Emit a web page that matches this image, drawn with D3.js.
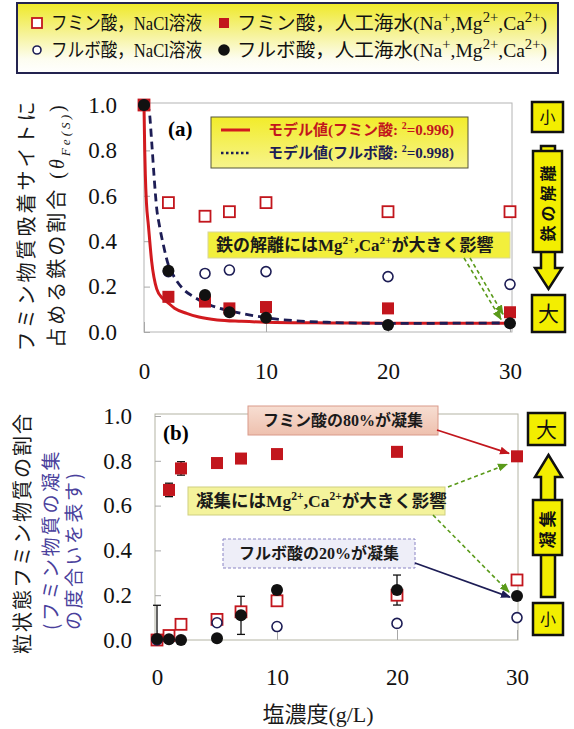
<!DOCTYPE html>
<html>
<head>
<meta charset="utf-8">
<script src="https://cdn.jsdelivr.net/npm/d3@7"></script>
<style>
  body { margin: 0; background: #fff; }
</style>
</head>
<body>
<script>
// ---- data ----
// panel (a): share of iron on humic adsorption sites
const saltA = [0, 2, 5, 7, 10, 20, 30];
const humicNaClA = [1.0, 0.57, 0.51, 0.53, 0.57, 0.53, 0.53];
const humicSeaA = [1.0, 0.155, 0.134, 0.104, 0.11, 0.104, 0.087];
const fulvicNaClA = [1.0, 0.266, 0.258, 0.273, 0.266, 0.244, 0.21];
const fulvicSeaA = [1.0, 0.27, 0.163, 0.087, 0.063, 0.031, 0.038];

// model curves, traced point by point
const modelHumicX = [0, 0.03, 0.06, 0.11, 0.2, 0.36, 0.63, 1.04, 1.5, 1.86, 2.5, 3.5, 4.5, 6, 8, 10, 15, 20, 30];
const modelHumicY = [1.0, 0.9, 0.8, 0.69, 0.57, 0.47, 0.31, 0.19, 0.15, 0.134, 0.105, 0.082, 0.066, 0.053, 0.047, 0.043, 0.04, 0.039, 0.038];
const modelFulvicX = [0, 0.4, 0.63, 0.82, 1.04, 1.26, 1.59, 2.0, 2.4, 3.2, 4.05, 5.4, 7.3, 10, 15, 20, 30];
const modelFulvicY = [1.0, 0.98, 0.838, 0.69, 0.545, 0.47, 0.383, 0.295, 0.25, 0.19, 0.156, 0.119, 0.09, 0.063, 0.043, 0.038, 0.04];

// panel (b): share of particulate humic substances
const saltB = [0, 1, 2, 5, 7, 10, 20, 30];
const humicSeaB = [0, 0.67, 0.766, 0.79, 0.81, 0.83, 0.84, 0.82];
const humicSeaErrB = [0, 0.03, 0.03, 0, 0, 0, 0, 0];
const humicNaClB = [0, 0.02, 0.07, 0.092, 0.126, 0.175, 0.2, 0.268];
const fulvicSeaB = [0.005, 0.003, 0, 0.008, 0.11, 0.223, 0.223, 0.196];
const fulvicSeaErrB = [0.15, 0, 0, 0, 0.085, 0.018, 0.067, 0];
const saltFulvicNaClB = [0, 5, 10, 20, 30];
const fulvicNaClB = [0, 0.077, 0.06, 0.074, 0.1];

const yTicks = [0, 0.2, 0.4, 0.6, 0.8, 1.0];
const xTicks = [0, 10, 20, 30];

const legendLabels = ['フミン酸，NaCl溶液', 'フミン酸，人工海水', 'フルボ酸，NaCl溶液', 'フルボ酸，人工海水'];
const modelLabels = ['モデル値(フミン酸: ', 'モデル値(フルボ酸: '];
const modelR2 = ['=0.996)', '=0.998)'];

// ---- style ----
const RED = '#c2161d';
const NAVY = '#1d1d55';
const BLACK = '#111';
const GREEN = '#5a9a1a';
const PURPLE = '#4a3f9c';
const SERIF = "'Liberation Serif', 'Noto Sans CJK JP', serif";
const JP = "'Noto Sans CJK JP', sans-serif";

const width = 574;
const height = 729;

const svg = d3.select('body').append('svg')
  .attr('width', width)
  .attr('height', height)
  .attr('font-family', SERIF);

const defs = svg.append('defs');

const gradient = (id, stops) => {
  const g = defs.append('linearGradient').attr('id', id)
    .attr('x1', 0).attr('y1', 0).attr('x2', 0).attr('y2', 1);
  stops.forEach(([o, c]) => g.append('stop').attr('offset', o).attr('stop-color', c));
};
gradient('gLegend', [[0, '#efe928'], [0.45, '#f6f39a'], [0.8, '#fdfdf0'], [1, '#ffffff']]);
gradient('gModel', [[0, '#f2ec2a'], [1, '#f7f48c']]);
gradient('gPink', [[0, '#f7ded2'], [1, '#eec0ae']]);

const marker = (id, color) => {
  defs.append('marker').attr('id', id)
    .attr('viewBox', '0 0 10 10').attr('refX', 9).attr('refY', 5)
    .attr('markerUnits', 'userSpaceOnUse')
    .attr('markerWidth', 10).attr('markerHeight', 10)
    .attr('orient', 'auto')
    .append('path').attr('d', 'M0,1 L10,5 L0,9 Z').attr('fill', color);
};
marker('arRed', RED);
marker('arNavy', NAVY);
marker('arGreen', GREEN);

// text with super / subscripts
const rich = (text, parts, size) => {
  let shift = 0;
  parts.forEach((p) => {
    const target = p.sup ? -size * 0.4 : p.sub ? size * 0.3 : 0;
    const ts = text.append('tspan').attr('dy', target - shift).text(p.t);
    if (p.sup || p.sub) ts.attr('font-size', size * (p.ss || 0.66));
    if (p.it) ts.attr('font-style', 'italic');
    shift = target;
  });
  return text;
};
const ions = [{ t: '(Na' }, { t: '+', sup: 1, ss: 0.75 }, { t: ',Mg' }, { t: '2+', sup: 1, ss: 0.75 }, { t: ',Ca' }, { t: '2+', sup: 1, ss: 0.75 }, { t: ')' }];
const mgca = [{ t: 'Mg' }, { t: '2+', sup: 1 }, { t: ',Ca' }, { t: '2+', sup: 1 }];

// marker drawers
const pts = (xs, ys) => xs.map((d, i) => [d, ys[i]]);
const squares = (g, data, x, y, filled, s) => g.append('g').selectAll('rect').data(data).join('rect')
  .attr('x', (d) => x(d[0]) - s / 2).attr('y', (d) => y(d[1]) - s / 2)
  .attr('width', s).attr('height', s)
  .attr('fill', filled ? RED : '#fff').attr('stroke', RED).attr('stroke-width', filled ? 0 : 1.8);
const circles = (g, data, x, y, filled, r) => g.append('g').selectAll('circle').data(data).join('circle')
  .attr('cx', (d) => x(d[0])).attr('cy', (d) => y(d[1])).attr('r', r)
  .attr('fill', filled ? BLACK : '#fff').attr('stroke', filled ? BLACK : NAVY).attr('stroke-width', filled ? 0 : 1.6);

// ---- top legend ----
svg.append('rect').attr('x', 17).attr('y', 3).attr('width', 541).attr('height', 70)
  .attr('fill', 'url(#gLegend)').attr('stroke', '#23234f').attr('stroke-width', 2);

const legendRows = [
  { x: 32, y: 23, tx: 51, len: 151, kind: 'sq', filled: false, label: legendLabels[0], ion: false },
  { x: 219, y: 23, tx: 237, len: 310, kind: 'sq', filled: true, label: legendLabels[1], ion: true },
  { x: 32, y: 50, tx: 51, len: 151, kind: 'ci', filled: false, label: legendLabels[2], ion: false },
  { x: 219, y: 50, tx: 237, len: 310, kind: 'ci', filled: true, label: legendLabels[3], ion: true },
];
legendRows.forEach((d) => {
  if (d.kind === 'sq') {
    svg.append('rect').attr('x', d.x).attr('y', d.y - 5).attr('width', 10).attr('height', 10)
      .attr('fill', d.filled ? RED : '#fff').attr('stroke', RED).attr('stroke-width', d.filled ? 0 : 1.8);
  } else {
    svg.append('circle').attr('cx', d.x + 5).attr('cy', d.y).attr('r', d.filled ? 5 : 4)
      .attr('fill', d.filled ? BLACK : '#fff').attr('stroke', d.filled ? BLACK : NAVY).attr('stroke-width', 1.6);
  }
  const t = svg.append('text').attr('x', d.tx).attr('y', d.y + 7).attr('font-size', 19).attr('fill', '#111')
    .attr('textLength', d.len).attr('lengthAdjust', 'spacingAndGlyphs');
  rich(t, [{ t: d.label }].concat(d.ion ? ions : []), 19);
});

// ---- panel (a) ----
const xA = d3.scaleLinear().domain([0, 30]).range([144, 510]);
const yA = d3.scaleLinear().domain([0, 1]).range([332, 105]);
const gA = svg.append('g');

gA.append('rect').attr('x', xA(0)).attr('y', yA(1) - 2).attr('width', xA(30) + 2 - xA(0)).attr('height', yA(0) - yA(1) + 2)
  .attr('fill', 'none').attr('stroke', '#b4b4b4').attr('stroke-width', 1);

const axisStyle = (g) => {
  g.select('.domain').remove();
  g.selectAll('.tick line').attr('stroke', '#a8a8a8');
  g.selectAll('.tick text').attr('fill', '#111').attr('font-size', 23).attr('font-family', SERIF);
};
gA.append('g').attr('transform', `translate(${xA(0)},0)`)
  .call(d3.axisLeft(yA).tickValues(yTicks).tickFormat(d3.format('.1f')).tickSize(-6).tickPadding(27))
  .call(axisStyle);
gA.append('g').attr('transform', `translate(0,${yA(0)})`)
  .call(d3.axisBottom(xA).tickValues(xTicks).tickFormat(d3.format('d')).tickSize(-10).tickPadding(31))
  .call(axisStyle);

// model curves
const lineA = d3.line().x((d) => xA(d[0])).y((d) => yA(d[1])).curve(d3.curveMonotoneX);
gA.append('path').datum(pts(modelHumicX, modelHumicY)).attr('d', lineA)
  .attr('fill', 'none').attr('stroke', '#d21a1f').attr('stroke-width', 3);
gA.append('path').datum(pts(modelFulvicX, modelFulvicY)).attr('d', lineA)
  .attr('fill', 'none').attr('stroke', NAVY).attr('stroke-width', 2.8).attr('stroke-dasharray', '8,5');

squares(gA, pts(saltA, humicNaClA), xA, yA, false, 11);
squares(gA, pts(saltA, humicSeaA), xA, yA, true, 12);
circles(gA, pts(saltA, fulvicNaClA), xA, yA, false, 5);
circles(gA, pts(saltA, fulvicSeaA), xA, yA, true, 6);

gA.append('text').attr('x', 168).attr('y', 136).attr('font-size', 21).attr('font-weight', 'bold').text('(a)');

// model legend
gA.append('rect').attr('x', 211).attr('y', 117).attr('width', 257).attr('height', 51)
  .attr('fill', 'url(#gModel)').attr('stroke', '#55553a').attr('stroke-width', 1);
gA.append('line').attr('x1', 221).attr('x2', 250).attr('y1', 130).attr('y2', 130)
  .attr('stroke', '#d21a1f').attr('stroke-width', 3);
gA.append('line').attr('x1', 221).attr('x2', 250).attr('y1', 153).attr('y2', 153)
  .attr('stroke', NAVY).attr('stroke-width', 2.5).attr('stroke-dasharray', '2.5,2.5');
[0, 1].forEach((i) => {
  const t = gA.append('text').attr('x', 268).attr('y', 135 + i * 23).attr('font-size', 15)
    .attr('font-weight', 'bold').attr('fill', i === 0 ? RED : NAVY);
  rich(t, [{ t: modelLabels[i] }, { t: '2', sup: 1 }, { t: modelR2[i] }], 15);
});

// annotation
gA.append('rect').attr('x', 208).attr('y', 232).attr('width', 302).attr('height', 26)
  .attr('fill', '#f2ef3c').attr('stroke', '#d8d69a').attr('stroke-width', 1);
rich(gA.append('text').attr('x', 216).attr('y', 251).attr('font-size', 17).attr('font-weight', 'bold').attr('fill', '#1a1a1a'),
  [{ t: '鉄の解離には' }].concat(mgca, [{ t: 'が大きく影響' }]), 17);
gA.append('line').attr('x1', 470).attr('y1', 258).attr('x2', xA(30) - 7).attr('y2', yA(humicSeaA[6]) + 2)
  .attr('stroke', GREEN).attr('stroke-width', 1.6).attr('stroke-dasharray', '4,3').attr('marker-end', 'url(#arGreen)');
gA.append('line').attr('x1', 464).attr('y1', 258).attr('x2', xA(30) - 9).attr('y2', yA(fulvicSeaA[6]) - 4)
  .attr('stroke', GREEN).attr('stroke-width', 1.6).attr('stroke-dasharray', '4,3').attr('marker-end', 'url(#arGreen)');

// y label (a)
gA.append('text').attr('transform', 'translate(34,225) rotate(-90)').attr('text-anchor', 'middle')
  .attr('font-size', 20).attr('letter-spacing', 3).attr('font-family', JP).attr('fill', '#1a1a1a')
  .text('フミン物質吸着サイトに');
rich(gA.append('text').attr('transform', 'translate(64,225) rotate(-90)').attr('text-anchor', 'middle')
  .attr('font-size', 20).attr('letter-spacing', 3).attr('fill', '#1a1a1a'),
  [{ t: '占める鉄の割合 (' }, { t: 'θ', it: 1 }, { t: 'Fe(S)', sub: 1, it: 1 }, { t: ')' }], 20);

// ---- panel (b) ----
const xB = d3.scaleLinear().domain([0, 30]).range([157, 517]);
const yB = d3.scaleLinear().domain([0, 1]).range([640, 416]);
const gB = svg.append('g');

gB.append('rect').attr('x', 155).attr('y', yB(1) - 2).attr('width', 363).attr('height', yB(0) - yB(1) + 2)
  .attr('fill', 'none').attr('stroke', '#b4b4a4').attr('stroke-width', 1);
gB.append('g').attr('transform', 'translate(155,0)')
  .call(d3.axisLeft(yB).tickValues(yTicks).tickFormat(d3.format('.1f')).tickSize(-6).tickPadding(23))
  .call(axisStyle);
gB.append('g').attr('transform', `translate(0,${yB(0)})`)
  .call(d3.axisBottom(xB).tickValues(xTicks).tickFormat(d3.format('d')).tickSize(-10).tickPadding(29))
  .call(axisStyle);

// error bars
const errBars = (xs, ys, es, color) => {
  const data = xs.map((d, i) => ({ x: d, y: ys[i], e: es[i] })).filter((d) => d.e > 0);
  const g = gB.append('g').attr('stroke', color).attr('stroke-width', 1.3);
  g.selectAll('.v').data(data).join('line')
    .attr('x1', (d) => xB(d.x)).attr('x2', (d) => xB(d.x))
    .attr('y1', (d) => yB(Math.max(0, d.y - d.e))).attr('y2', (d) => yB(d.y + d.e));
  g.selectAll('.t').data(data).join('line')
    .attr('x1', (d) => xB(d.x) - 4).attr('x2', (d) => xB(d.x) + 4)
    .attr('y1', (d) => yB(d.y + d.e)).attr('y2', (d) => yB(d.y + d.e));
  g.selectAll('.b').data(data.filter((d) => d.y - d.e > 0)).join('line')
    .attr('x1', (d) => xB(d.x) - 4).attr('x2', (d) => xB(d.x) + 4)
    .attr('y1', (d) => yB(d.y - d.e)).attr('y2', (d) => yB(d.y - d.e));
};
errBars(saltB, humicSeaB, humicSeaErrB, BLACK);
errBars(saltB, fulvicSeaB, fulvicSeaErrB, BLACK);

squares(gB, pts(saltB, humicSeaB), xB, yB, true, 12);
squares(gB, pts(saltB, humicNaClB), xB, yB, false, 11);
circles(gB, pts(saltFulvicNaClB, fulvicNaClB), xB, yB, false, 5);
circles(gB, pts(saltB, fulvicSeaB), xB, yB, true, 6);

gB.append('text').attr('x', 163).attr('y', 440).attr('font-size', 21).attr('font-weight', 'bold').text('(b)');

// annotations (b)
gB.append('rect').attr('x', 248).attr('y', 406).attr('width', 190).attr('height', 29)
  .attr('fill', 'url(#gPink)').attr('stroke', '#d99a8a').attr('stroke-width', 1);
gB.append('text').attr('x', 343).attr('y', 426).attr('text-anchor', 'middle').attr('font-size', 16)
  .attr('font-weight', 'bold').attr('fill', '#1a1a1a').text('フミン酸の80%が凝集');
gB.append('line').attr('x1', 437).attr('y1', 430).attr('x2', xB(30) - 8).attr('y2', yB(humicSeaB[7]) - 3)
  .attr('stroke', RED).attr('stroke-width', 1.8).attr('marker-end', 'url(#arRed)');

gB.append('rect').attr('x', 188).attr('y', 487).attr('width', 257).attr('height', 28)
  .attr('fill', '#f4f39c').attr('stroke', '#cfcf80').attr('stroke-width', 1);
rich(gB.append('text').attr('x', 196).attr('y', 507).attr('font-size', 17.5).attr('font-weight', 'bold').attr('fill', '#1a1a1a'),
  [{ t: '凝集には' }].concat(mgca, [{ t: 'が大きく影響' }]), 17.5);
gB.append('line').attr('x1', 448).attr('y1', 487).attr('x2', xB(30) - 10).attr('y2', yB(humicSeaB[7]) + 8)
  .attr('stroke', GREEN).attr('stroke-width', 1.6).attr('stroke-dasharray', '4,3').attr('marker-end', 'url(#arGreen)');
gB.append('line').attr('x1', 433).attr('y1', 515).attr('x2', xB(30) - 8).attr('y2', yB(fulvicSeaB[7]) - 4)
  .attr('stroke', GREEN).attr('stroke-width', 1.6).attr('stroke-dasharray', '4,3').attr('marker-end', 'url(#arGreen)');

gB.append('rect').attr('x', 223).attr('y', 539).attr('width', 192).attr('height', 29)
  .attr('fill', '#eeeef8').attr('stroke', '#8a84c4').attr('stroke-width', 1).attr('stroke-dasharray', '3,2');
gB.append('text').attr('x', 319).attr('y', 559).attr('text-anchor', 'middle').attr('font-size', 16)
  .attr('font-weight', 'bold').attr('fill', '#1a1a1a').text('フルボ酸の20%が凝集');
gB.append('line').attr('x1', 415).attr('y1', 563).attr('x2', xB(30) - 7).attr('y2', yB(fulvicSeaB[7]) + 1)
  .attr('stroke', NAVY).attr('stroke-width', 1.8).attr('marker-end', 'url(#arNavy)');

// y label (b)
gB.append('text').attr('transform', 'translate(30,533) rotate(-90)').attr('text-anchor', 'middle')
  .attr('font-size', 20).attr('letter-spacing', 2).attr('font-family', JP).attr('fill', '#1a1a1a')
  .text('粒状態フミン物質の割合');
gB.append('text').attr('transform', 'translate(58,630) rotate(-90)')
  .attr('font-size', 19).attr('letter-spacing', 2.5).attr('font-family', JP).attr('fill', PURPLE)
  .text('(フミン物質の凝集');
gB.append('text').attr('transform', 'translate(81,630) rotate(-90)')
  .attr('font-size', 19).attr('letter-spacing', 2.5).attr('font-family', JP).attr('fill', PURPLE)
  .text('の度合いを表す)');

// x label
gB.append('text').attr('x', 318).attr('y', 722).attr('text-anchor', 'middle').attr('font-size', 22)
  .attr('fill', '#1a1a1a').text('塩濃度(g/L)');

// ---- side scale arrows ----
const side = svg.append('g').attr('stroke', '#111').attr('stroke-width', 2.5).attr('fill', '#f3ee00');
const boxLabel = (x, y, w, h, label, size) => {
  side.append('rect').attr('x', x).attr('y', y).attr('width', w).attr('height', h);
  side.append('text').attr('x', x + w / 2).attr('y', y + h / 2 + size * 0.36).attr('text-anchor', 'middle')
    .attr('font-family', JP).attr('font-size', size).attr('stroke', 'none').attr('fill', '#111').text(label);
};
// (a): iron dissociation, small -> large (downward)
side.append('path').attr('d', 'M541,146 H555 V268 H562 L548.5,289 L535,268 H541 Z');
boxLabel(533, 151, 29, 101, '', 0);
side.append('text').attr('transform', 'translate(554,201.5) rotate(-90)').attr('text-anchor', 'middle')
  .attr('font-family', JP).attr('font-size', 16).attr('font-weight', 'bold').attr('letter-spacing', 4)
  .attr('stroke', 'none').attr('fill', '#111').text('鉄の解離');
boxLabel(532, 102, 31, 30, '小', 16);
boxLabel(532, 295, 33, 37, '大', 21);
// (b): aggregation, small -> large (upward)
side.append('path').attr('d', 'M541,597 H555 V477 H562 L548.5,455 L535,477 H541 Z');
boxLabel(533, 500, 29, 55, '', 0);
side.append('text').attr('transform', 'translate(554,527.5) rotate(-90)').attr('text-anchor', 'middle')
  .attr('font-family', JP).attr('font-size', 17).attr('font-weight', 'bold').attr('letter-spacing', 4)
  .attr('stroke', 'none').attr('fill', '#111').text('凝集');
boxLabel(528, 413, 37, 32, '大', 21);
boxLabel(533, 603, 30, 32, '小', 16);
</script>
</body>
</html>
